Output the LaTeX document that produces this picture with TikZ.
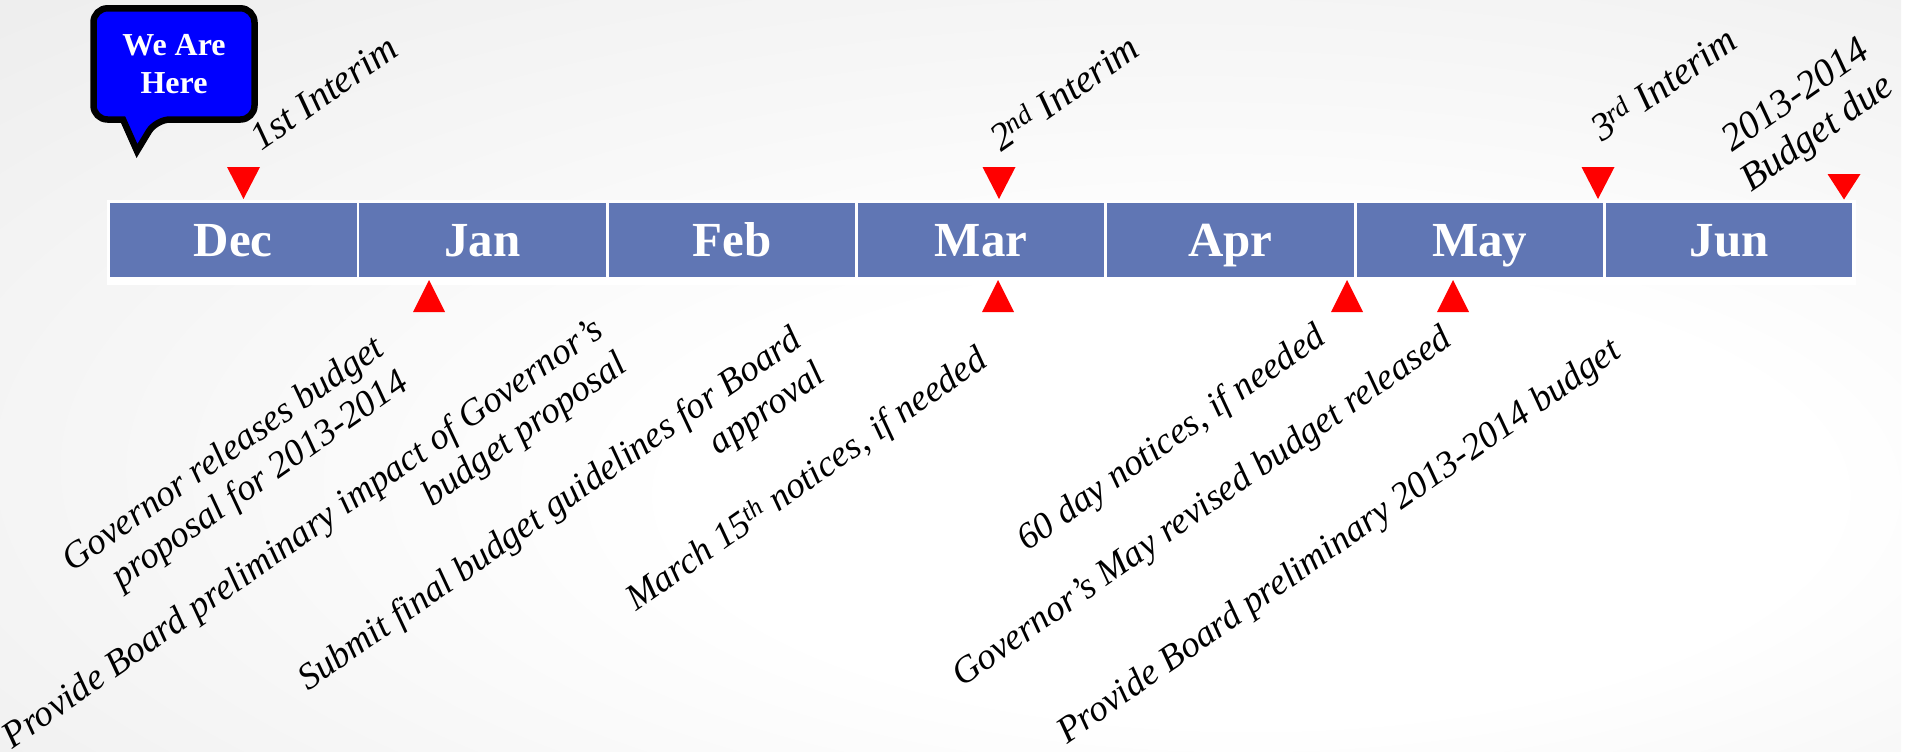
\documentclass[tikz,border=0pt]{standalone}
\usepackage{fontspec}
\setmainfont{Liberation Serif}
\usetikzlibrary{calc}
\definecolor{monthblue}{RGB}{96,118,180}
\definecolor{calloutblue}{RGB}{0,0,255}
\pgfdeclareradialshading{bgshade}{\pgfpoint{10bp}{-10bp}}{color(0bp)=(white); color(15bp)=(white); color(50bp)=(black!9); color(75bp)=(black!16)}
\tikzset{
  month/.style={fill=monthblue, text=white, minimum width=246.5pt, minimum height=74pt,
    inner sep=0pt, text height=34pt, text depth=2pt,
    font=\bfseries\fontsize{49}{52}\selectfont},
  lbl/.style={font=\itshape\fontsize{37}{42}\selectfont, rotate=35, inner sep=0pt, text=black},
  toplbl/.style={lbl, font=\itshape\fontsize{39}{43}\selectfont},
  marker/.style={fill=red},
  callout/.style={draw=black, fill=calloutblue, line width=6.5pt, line join=miter}
}
\begin{document}
\begin{tikzpicture}[x=1pt,y=-1pt]
\useasboundingbox (0,0) rectangle (1919,752);
% background
\fill[white] (0,0) rectangle (1919,752);
\shade[shading=bgshade] (0,0) rectangle (1901,752);

% timeline bar
\fill[white] (107,200) rectangle (1855.5,285);
\foreach \m [count=\i from 0] in {Dec,Jan,Feb,Mar,Apr,May,Jun}{
  \node[month] (m\i) at ({110+249.3*\i+123.25},240) {\m};
}

% markers above (pointing down)
\foreach \x/\n in {243.5/a,999/b,1598/c}{
  \coordinate (up\n) at (\x,199);
  \fill[marker] ($(up\n)+(-16.5,-32)$) -- ($(up\n)+(16.5,-32)$) -- (up\n) -- cycle;
}
\coordinate (upd) at (1844,199.5);
\fill[marker] ($(upd)+(-16.5,-25.5)$) -- ($(upd)+(16.5,-25.5)$) -- (upd) -- cycle;

% markers below (pointing up)
\foreach \x/\n in {429/a,998/b,1347/c,1453/d}{
  \coordinate (lo\n) at (\x,280);
  \fill[marker] ($(lo\n)+(-16,32)$) -- ($(lo\n)+(16,32)$) -- (lo\n) -- cycle;
}

% callout
\draw[callout] (123,119.5) [rounded corners=14pt] -- (93.5,119.5) -- (93.5,8.3) -- (254.5,8.3) -- (254.5,119.5) -- (156,119.5) [sharp corners] -- (137,151) -- cycle;
\node[text=white, align=center, font=\bfseries\fontsize{32}{38}\selectfont] (here) at (174,64) {We Are\\Here};

% upper labels
\node[toplbl, anchor=base west] (interimA) at (261,152) {1st Interim};
\node[toplbl, anchor=base west] (interimB) at (1001,153) {2\textsuperscript{nd} Interim};
\node[toplbl, anchor=base west] (interimC) at (1602,143) {3\textsuperscript{rd} Interim};
\node[toplbl, anchor=south east, align=right] (due) at (1901,98) {2013-2014\\Budget due};

% lower labels
\node[lbl, anchor=south east, align=right] (govrel) at (415,394) {Governor releases budget\\proposal for 2013-2014};
\node[lbl, anchor=south east, align=right] (impact) at (634,376) {Provide Board preliminary impact of Governor's\\budget proposal};
\node[lbl, anchor=south east, align=right] (final) at (832,386) {Submit final budget guidelines for Board\\approval};
\node[lbl, anchor=base west] (march) at (636,612) {March 15\textsuperscript{th} notices, if needed};
\node[lbl, anchor=base west] (sixty) at (1027,552) {60 day notices, if needed};
\node[lbl, anchor=base west] (mayrev) at (962,688) {Governor's May revised budget released};
\node[lbl, anchor=base west] (prelim) at (1067,745) {Provide Board preliminary 2013-2014 budget};
\end{tikzpicture}
\end{document}
